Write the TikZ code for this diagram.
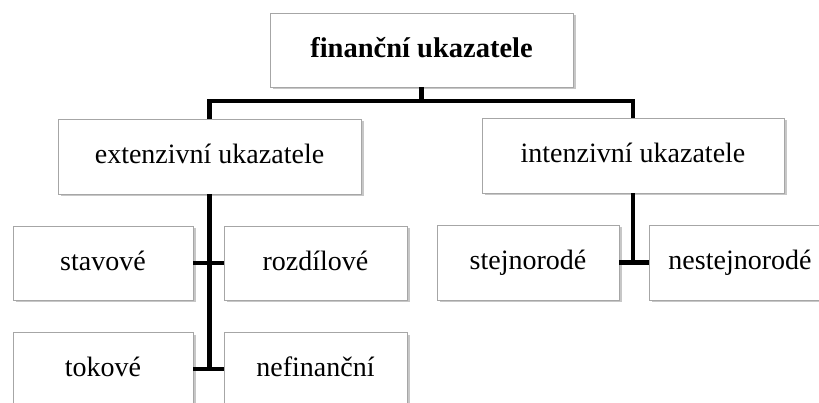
\documentclass[tikz,border=0pt]{standalone}
\usepackage{fontspec}
\setmainfont{Liberation Serif}
\usetikzlibrary{shadows}
\tikzset{
  box/.style={draw=gray!70, line width=0.8pt, fill=white, inner sep=0pt,
    font=\fontsize{28}{33}\selectfont, text height=20pt, text depth=5pt,
    drop shadow={shadow xshift=2.5pt, shadow yshift=-2.5pt, fill=gray!55, opacity=0.8}},
  conn/.style={line width=4.5pt, black}
}
\begin{document}
\begin{tikzpicture}[x=1pt,y=-1pt]
\useasboundingbox (0,0) rectangle (819,403);
\clip (0,0) rectangle (819,403);
\node[box, minimum width=303pt, minimum height=74pt, font=\fontsize{28.5}{33}\selectfont\bfseries] (top) at (421.5,50) {finanční ukazatele};
\node[box, minimum width=303pt, minimum height=75pt] (ext) at (209.5,156.5) {extenzivní ukazatele};
\node[box, minimum width=302pt, minimum height=75pt] (int) at (633,155.5) {intenzivní ukazatele};
\node[box, minimum width=180pt, minimum height=74pt] (stav) at (103,263) {stavové};
\node[box, minimum width=183pt, minimum height=74pt] (rozd) at (315.5,263) {rozdílové};
\node[box, minimum width=180pt, minimum height=74pt] (tok) at (103,369) {tokové};
\node[box, minimum width=183pt, minimum height=74pt] (nefin) at (315.5,369) {nefinanční};
\node[box, minimum width=182pt, minimum height=75pt] (stej) at (528,262.5) {stejnorodé};
\node[box, minimum width=182pt, minimum height=75pt] (nestej) at (740,262.5) {nestejnorodé};
\coordinate (bus) at (421.5,101);
\draw[conn] (top.south) -- (bus);
\draw[conn] (ext.north) |- (bus) -| (int.north);
\draw[conn] (ext.south) -- (ext.south |- tok.east);
\draw[conn] (stav.east) -- (rozd.west);
\draw[conn] (tok.east) -- (nefin.west);
\draw[conn] (int.south) -- (int.south |- stej.east);
\draw[conn] (stej.east) -- (nestej.west);
\end{tikzpicture}
\end{document}
